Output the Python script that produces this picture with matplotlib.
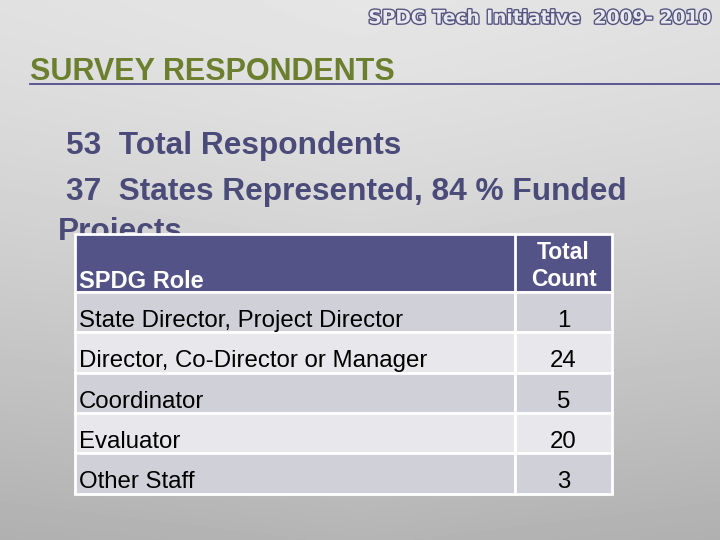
import numpy as np
import matplotlib
matplotlib.use("Agg")
import matplotlib.pyplot as plt
import matplotlib.patheffects as pe
from matplotlib.patches import Rectangle

# slide content
header_title = "SPDG Tech Initiative  2009- 2010"
slide_title = "SURVEY RESPONDENTS"
total_respondents = 53
states_represented = 37
funded_pct = 84
col_headers = ["SPDG Role", "Total\nCount"]
roles = ["State Director, Project Director", "Director, Co-Director or Manager",
         "Coordinator", "Evaluator", "Other Staff"]
counts = [1, 24, 5, 20, 3]

plt.rcParams['font.family'] = ['Liberation Sans', 'DejaVu Sans']

fig = plt.figure(figsize=(7.2, 5.4), dpi=100)
ax = fig.add_axes([0, 0, 1, 1])
ax.set_xlim(0, 720)
ax.set_ylim(540, 0)
ax.axis('off')

# background: light gray with darker bottom
yy = np.linspace(0, 1, 270)[:, None]
xx = np.linspace(0, 1, 360)[None, :]
bg = 0.90 - 0.19 * yy ** 1.3 - 0.04 * np.abs(xx - 0.5)
ax.imshow(bg, extent=[0, 720, 540, 0], cmap='gray', vmin=0, vmax=1,
          aspect='auto', zorder=0)

# header in outline style
ax.text(712, 18, header_title, ha='right', va='center', fontsize=13.4,
        fontweight='bold', family='DejaVu Sans', color='#e8e8ee',
        path_effects=[pe.withStroke(linewidth=2.0, foreground='#55557f')], zorder=3)

# title with underline
ax.text(30, 72, slide_title, ha='left', va='center', fontsize=22,
        fontweight='bold', color='#6b7f2e', zorder=3)
ax.plot([30, 720], [84, 84], color='#4f4f8a', lw=1.3, zorder=3)

txt_col = '#4b4b7a'
ax.text(66, 146, f"{total_respondents}  Total Respondents", ha='left', va='center',
        fontsize=22.8, fontweight='bold', color=txt_col, zorder=3)
ax.text(66, 192, f"{states_represented}  States Represented, {funded_pct} % Funded",
        ha='left', va='center', fontsize=22.8, fontweight='bold', color=txt_col, zorder=3)
ax.text(58, 232, "Projects", ha='left', va='center', fontsize=22.8,
        fontweight='bold', color=txt_col, zorder=3)

# table
x0, xs, x1 = 75, 515, 612
head_top, head_bot = 234, 292
row_h = 40.3
fs = 17.3
ax.add_patch(Rectangle((x0, head_top), x1 - x0, head_bot - head_top,
                       facecolor='#535388', edgecolor='white', lw=2, zorder=4))
ax.plot([xs, xs], [head_top, head_bot], color='white', lw=2, zorder=5)
ax.text(79, 281, col_headers[0], ha='left', va='center', fontsize=17,
        fontweight='bold', color='white', zorder=6)
ax.text((xs + x1) / 2, 266, col_headers[1], ha='center', va='center', fontsize=16.5,
        fontweight='bold', color='white', linespacing=1.2, zorder=6)

for i, (role, cnt) in enumerate(zip(roles, counts)):
    top = head_bot + i * row_h
    fc = '#d0d0d8' if i % 2 == 0 else '#e8e8ec'
    ax.add_patch(Rectangle((x0, top), xs - x0, row_h, facecolor=fc,
                           edgecolor='white', lw=2, zorder=4))
    ax.add_patch(Rectangle((xs, top), x1 - xs, row_h, facecolor=fc,
                           edgecolor='white', lw=2, zorder=4))
    ax.text(79, top + row_h / 2 + 9, role, ha='left', va='center', fontsize=fs,
            color='black', zorder=6)
    ax.text((xs + x1) / 2, top + row_h / 2 + 9, str(cnt), ha='center', va='center',
            fontsize=fs, color='black', zorder=6)

fig.savefig("out.png", dpi=100)
